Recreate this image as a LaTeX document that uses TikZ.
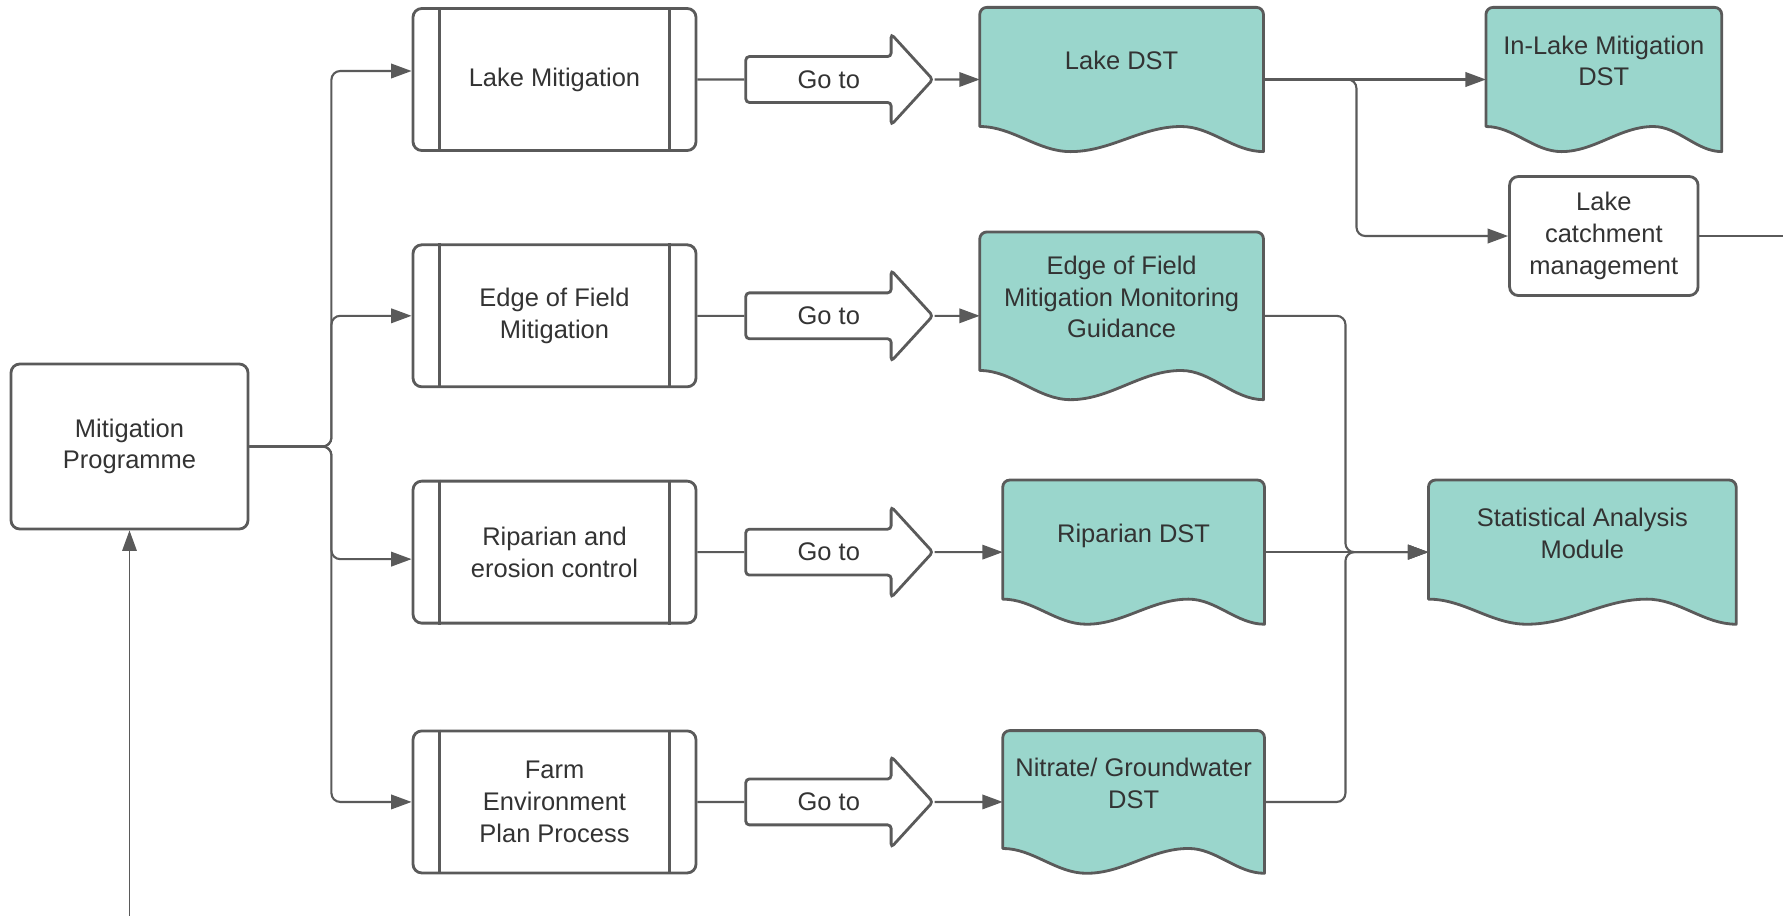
\documentclass[tikz,border=0pt]{standalone}
\usepackage{fontspec}
\setmainfont{Liberation Sans}
\usetikzlibrary{positioning,calc,arrows.meta,shapes.arrows,backgrounds}

\definecolor{linegray}{RGB}{90,90,90}
\definecolor{docteal}{RGB}{154,214,204}
\definecolor{textgray}{RGB}{51,51,51}

% wavy document outline round a named node
\newcommand{\docshape}[1]{%
  \filldraw[fill=docteal, draw=linegray, line width=1.6pt, line join=round]
    let \p1=(#1.north west), \p2=(#1.south east),
        \n1={\x2-\x1}, \n2={\y1-\y2} in
    (\x1,{\y1-0.826*\n2}) [rounded corners=4pt] -- (\p1) -- (\x2,\y1) [sharp corners] -- (\p2)
    cos ({\x1+0.855*\n1},{\y1-0.913*\n2}) sin ({\x1+0.71*\n1},{\y1-0.826*\n2})
    cos ({\x1+0.515*\n1},{\y1-0.913*\n2}) sin ({\x1+0.32*\n1},{\y1-\n2})
    cos ({\x1+0.16*\n1},{\y1-0.913*\n2}) sin (\x1,{\y1-0.826*\n2}) -- cycle;}
% text of a document sits above the middle
\newcommand{\doctext}[1]{\raisebox{0.32cm}[\height][\depth]{\begin{tabular}{@{}c@{}}#1\end{tabular}}}

\begin{document}
\begin{tikzpicture}[
        basicnode/.style={rectangle, rounded corners=5pt, draw=linegray, line width=1.6pt, text=textgray, font=\fontsize{14.5}{18}\selectfont, align=center},
        procbar/.style={draw=linegray, line width=1.6pt},
        procnode/.style={basicnode, minimum width=5.66cm, minimum height=2.84cm,
            append after command={([xshift=0.56cm]\tikzlastnode.north west) edge[procbar] ([xshift=0.56cm]\tikzlastnode.south west)
                                  ([xshift=-0.56cm]\tikzlastnode.north east) edge[procbar] ([xshift=-0.56cm]\tikzlastnode.south east)}},
        gotonode/.style={single arrow, draw=linegray, line width=1.6pt, rounded corners=2pt, minimum height=3.74cm, minimum width=1.82cm,
            single arrow head extend=0.32cm, single arrow tip angle=95, text=textgray, font=\fontsize{14.5}{18}\selectfont},
        docnode/.style={rectangle, inner sep=0pt, minimum height=2.87cm, text=textgray, font=\fontsize{14.5}{18}\selectfont},
        plainconn/.style={draw=linegray, line width=1.2pt, rounded corners=5pt},
        conn/.style={plainconn, -{Triangle[length=0.41cm, width=0.29cm]}},
        ]
        \useasboundingbox (0,0) rectangle (35.66,-18.3);
        %Nodes
        \node[basicnode, minimum width=4.74cm, minimum height=3.3cm] (prog) at (2.59,-8.93) {Mitigation\\Programme};

        \node[procnode] (lakemit) at (11.09,-1.59) {Lake Mitigation};
        \node[procnode] (edgemit) [below=1.83cm of lakemit] {Edge of Field\\Mitigation};
        \node[procnode] (ripmit) [below=1.83cm of edgemit] {Riparian and\\erosion control};
        \node[procnode] (farmmit) [below=2.10cm of ripmit] {Farm\\Environment\\Plan Process};

        \node[gotonode] (golake) [right=0.94cm of lakemit] {Go to};
        \node[gotonode] (goedge) [right=0.94cm of edgemit] {Go to};
        \node[gotonode] (gorip) [right=0.94cm of ripmit] {Go to};
        \node[gotonode] (gofarm) [right=0.94cm of farmmit] {Go to};

        \node[docnode, minimum width=5.66cm] (lakedst) [right=0.9cm of golake] {\doctext{Lake DST}};
        \node[docnode, minimum width=5.66cm, minimum height=3.34cm] (edgedoc) [right=0.9cm of goedge] {\doctext{Edge of Field\\Mitigation Monitoring\\Guidance}};
        \node[docnode, minimum width=5.22cm] (ripdst) [right=1.36cm of gorip] {\doctext{Riparian DST}};
        \node[docnode, minimum width=5.22cm, minimum height=2.84cm] (nitdst) [right=1.36cm of gofarm] {\doctext{Nitrate/ Groundwater\\DST}};
        \node[docnode, minimum width=4.7cm] (inlake) [right=4.45cm of lakedst] {\doctext{In-Lake Mitigation\\DST}};
        \node[docnode, minimum width=6.14cm] (stat) [right=3.28cm of ripdst] {\doctext{Statistical Analysis\\Module}};

        \node[basicnode, minimum width=3.77cm, minimum height=2.38cm] (catch) [below=0.47cm of inlake] {Lake\\catchment\\management};

        \begin{scope}[on background layer]
            \docshape{lakedst}
            \docshape{edgedoc}
            \docshape{ripdst}
            \docshape{nitdst}
            \docshape{inlake}
            \docshape{stat}
        \end{scope}

        %Connectors
        \coordinate (split) at ([xshift=1.64cm]prog.east);
        \coordinate (lakebranch) at ([xshift=1.86cm]lakedst.east);
        \coordinate (statjoin) at ([xshift=1.64cm]edgedoc.east);
        \coordinate (catchout) at ([xshift=1.8cm]catch.east);
        \coordinate (loopin) at ([yshift=-7.72cm]prog.south);

        \draw[conn] (prog.east) -- (split) |- ([yshift=0.17cm]lakemit.west);
        \draw[conn] (prog.east) -- (split) |- (edgemit.west);
        \draw[conn] (prog.east) -- (split) |- ([yshift=-0.14cm]ripmit.west);
        \draw[conn] (prog.east) -- (split) |- (farmmit.west);

        \draw[plainconn] (lakemit.east) -- (golake.tail);
        \draw[plainconn] (edgemit.east) -- (goedge.tail);
        \draw[plainconn] (ripmit.east) -- (gorip.tail);
        \draw[plainconn] (farmmit.east) -- (gofarm.tail);

        \draw[conn] (golake.tip) -- (lakedst.west);
        \draw[conn] (goedge.tip) -- (edgedoc.west);
        \draw[conn] (gorip.tip) -- (ripdst.west);
        \draw[conn] (gofarm.tip) -- (nitdst.west);

        \draw[conn] (lakedst.east) -- (inlake.west);
        \draw[conn] (lakedst.east) -- (lakebranch) |- (catch.west);
        \draw[plainconn] (catch.east) -- (catchout);

        \draw[conn] (edgedoc.east) -- (statjoin) |- (stat.west);
        \draw[conn] (ripdst.east) -- (stat.west);
        \draw[conn] (nitdst.east) -- (nitdst.east -| statjoin) |- (stat.west);

        \draw[conn, line width=0.9pt] (loopin) -- (prog.south);
    \end{tikzpicture}
\end{document}
